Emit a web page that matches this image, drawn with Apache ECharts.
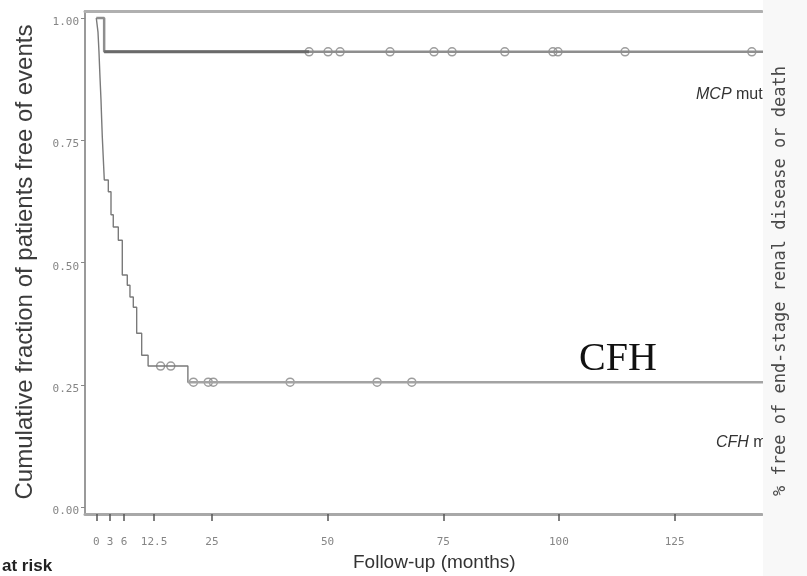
<!DOCTYPE html>
<html>
<head>
<meta charset="utf-8">
<script src="https://cdn.jsdelivr.net/npm/echarts@6/dist/echarts.min.js"></script>
<style>
  html, body { margin: 0; padding: 0; background: #fff; }
  #chart { width: 807px; height: 576px; }
</style>
</head>
<body>
<div id="chart"></div>
<script>
// Kaplan–Meier estimates of event-free survival; follow-up in months
const mcpTime = [0, 1.7];
const mcpSurv = [1.0, 0.931];
const mcpCensorTime = [46.0, 50.1, 52.7, 63.5, 73.0, 76.9, 88.3, 98.7, 99.8, 114.3, 141.7];

const cfhTime = [0, 0.37, 0.58, 0.8, 1.02, 1.15, 1.3, 1.51, 1.73, 2.6, 3.18, 3.67, 4.76, 5.62, 6.7, 7.28, 8.0, 8.73, 9.81, 11.2, 19.8];
const cfhSurv = [1.0, 0.971, 0.931, 0.879, 0.832, 0.796, 0.757, 0.714, 0.669, 0.645, 0.598, 0.573, 0.546, 0.475, 0.454, 0.430, 0.409, 0.356, 0.311, 0.289, 0.256];
const cfhCensorTime = [13.9, 16.1, 21.0, 24.2, 25.3, 41.9, 60.7, 68.2];

const xTicks = [0, 3, 6, 12.5, 25, 50, 75, 100, 125];
const yTicks = [0, 0.25, 0.5, 0.75, 1];
const followUpEnd = 150;

// step curve points, extended to the end of follow-up
function curve(times, surv) {
  const pts = times.map((t, i) => [t, surv[i]]);
  pts.push([followUpEnd, surv[surv.length - 1]]);
  return pts;
}
// survival value at time t (last event at or before t)
function survAt(times, surv, t) {
  let s = surv[0];
  for (let i = 0; i < times.length; i++) if (times[i] <= t) s = surv[i];
  return s;
}
function censors(times, surv, cens) {
  return cens.map(t => [t, survAt(times, surv, t)]);
}

const mono = 'DejaVu Sans Mono';
const sans = 'Liberation Sans';

const chart = echarts.init(document.getElementById('chart'));
chart.setOption({
  animation: false,
  backgroundColor: '#fff',
  grid: { left: 85, top: 11, width: 677, height: 503, containLabel: false, outerBoundsMode: 'none' },
  xAxis: [{
    type: 'value', min: -2.44, max: 143.9, position: 'bottom',
    axisLine: { onZero: false, lineStyle: { color: '#a8a8a8', width: 3 } },
    axisTick: { customValues: xTicks, length: 7, lineStyle: { color: '#555', width: 1.5 } },
    axisLabel: { customValues: xTicks, formatter: v => String(v), margin: 23,
      fontFamily: mono, fontSize: 11, color: '#858585' },
    splitLine: { show: false }
  }, {
    type: 'value', min: -2.44, max: 143.9, position: 'top',
    axisLine: { onZero: false, lineStyle: { color: '#b0b0b0', width: 3 } },
    axisTick: { show: false }, axisLabel: { show: false }, splitLine: { show: false }
  }],
  yAxis: {
    type: 'value', min: -0.0133, max: 1.0143,
    axisLine: { show: true, onZero: false, lineStyle: { color: '#9a9a9a', width: 2 } },
    axisTick: { show: true, customValues: yTicks, length: 4, lineStyle: { color: '#888' } },
    axisLabel: { customValues: yTicks, formatter: v => v.toFixed(2), margin: 6,
      fontFamily: mono, fontSize: 11, color: '#858585', verticalAlign: 'top', lineHeight: 8 },
    splitLine: { show: false }
  },
  series: [
    { name: 'MCP', type: 'line', step: 'end', symbol: 'none', clip: true,
      data: curve(mcpTime, mcpSurv),
      lineStyle: { color: '#8e8e8e', width: 2.5 } },
    { name: 'MCP early', type: 'line', symbol: 'none', clip: true,
      data: [[mcpTime[mcpTime.length - 1], mcpSurv[mcpSurv.length - 1]], [mcpCensorTime[0], mcpSurv[mcpSurv.length - 1]]],
      lineStyle: { color: '#6a6a6a', width: 3 } },
    { name: 'CFH', type: 'line', step: 'end', symbol: 'none', clip: true,
      data: curve(cfhTime, cfhSurv),
      lineStyle: { color: '#7a7a7a', width: 1.4 } },
    { name: 'CFH tail', type: 'line', symbol: 'none', clip: true,
      data: [[cfhTime[cfhTime.length - 1], cfhSurv[cfhSurv.length - 1]], [followUpEnd, cfhSurv[cfhSurv.length - 1]]],
      lineStyle: { color: '#a3a3a3', width: 2.5 } },
    { name: 'MCP censored', type: 'scatter', symbol: 'circle', symbolSize: 8,
      data: censors(mcpTime, mcpSurv, mcpCensorTime),
      itemStyle: { color: 'rgba(255,255,255,0)', borderColor: '#858585', borderWidth: 1.5 } },
    { name: 'CFH censored', type: 'scatter', symbol: 'circle', symbolSize: 8,
      data: censors(cfhTime, cfhSurv, cfhCensorTime),
      itemStyle: { color: 'rgba(255,255,255,0)', borderColor: '#858585', borderWidth: 1.5 } }
  ],
  graphic: [
    { type: 'text', x: 25, y: 262, rotation: Math.PI / 2,
      style: { text: 'Cumulative fraction of patients free of events', font: '24px ' + sans,
        fill: '#3c3c3c', textAlign: 'center', textVerticalAlign: 'middle' } },
    { type: 'text', x: 353, y: 563,
      style: { text: 'Follow-up (months)', font: '19px ' + sans, fill: '#333',
        textAlign: 'left', textVerticalAlign: 'middle' } },
    { type: 'text', x: 2, y: 566,
      style: { text: 'at risk', font: 'bold 17px ' + sans, fill: '#222',
        textAlign: 'left', textVerticalAlign: 'middle' } },
    { type: 'text', x: 696, y: 95,
      style: { text: '{i|MCP}{n| mutation}', textVerticalAlign: 'middle',
        rich: { i: { font: 'italic 16px ' + sans, fill: '#333' }, n: { font: '16px ' + sans, fill: '#333' } } } },
    { type: 'text', x: 716, y: 443,
      style: { text: '{i|CFH}{n| mutation}', textVerticalAlign: 'middle',
        rich: { i: { font: 'italic 16px ' + sans, fill: '#333' }, n: { font: '16px ' + sans, fill: '#333' } } } },
    { type: 'text', x: 618, y: 379,
      style: { text: 'CFH', font: '40px "Liberation Serif"', fill: '#111',
        textAlign: 'center', textVerticalAlign: 'bottom' } },
    { type: 'rect', z: 100, shape: { x: 763, y: 0, width: 44, height: 576 },
      style: { fill: '#f8f8f8' } },
    { type: 'text', z: 101, x: 781, y: 281, rotation: Math.PI / 2,
      style: { text: '% free of end-stage renal disease or death', font: '17px ' + mono,
        fill: '#4a4a4a', textAlign: 'center', textVerticalAlign: 'middle' } }
  ]
});
</script>
</body>
</html>
